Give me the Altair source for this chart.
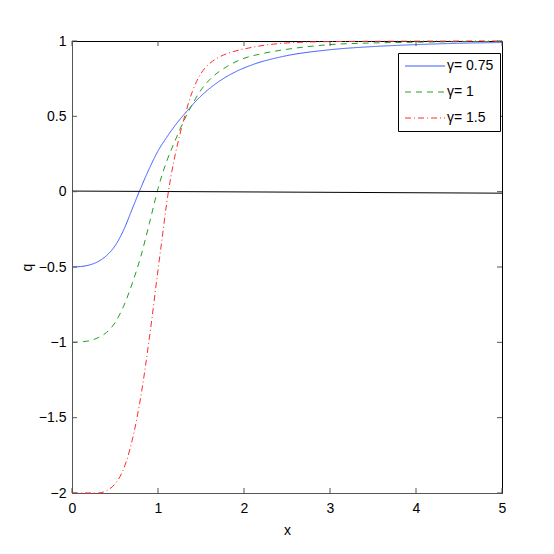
import altair as alt
import pandas as pd

labels = ["γ= 0.75", "γ= 1", "γ= 1.5"]
colors = ["#3a5bff", "#22a022", "#ff2a2a"]
dashes = [[1, 0], [6, 5], [6, 3, 1, 3]]

# gamma = 0.75 (blue, solid)
bx = [0, 0.1, 0.2, 0.3, 0.4, 0.5, 0.6, 0.7, 0.8, 0.9, 1.0, 1.1, 1.2, 1.3, 1.5, 1.7, 1.9, 2.1, 2.45, 3.0, 3.5, 4.0, 4.5, 5.0]
bq = [-0.5, -0.497, -0.487, -0.465, -0.425, -0.36, -0.255, -0.115, 0.025, 0.155, 0.27, 0.36, 0.44, 0.51, 0.635, 0.728, 0.795, 0.843, 0.897, 0.942, 0.963, 0.976, 0.985, 0.99]

# gamma = 1 (green, dashed)
gx = [0, 0.2, 0.3, 0.4, 0.5, 0.6, 0.7, 0.8, 0.9, 1.0, 1.1, 1.2, 1.3, 1.4, 1.5, 1.6, 1.8, 2.0, 2.2, 2.5, 3.0, 3.5, 4.0, 5.0]
gq = [-1.0, -0.99, -0.97, -0.935, -0.87, -0.76, -0.61, -0.43, -0.21, 0.02, 0.2, 0.34, 0.47, 0.58, 0.675, 0.743, 0.83, 0.885, 0.915, 0.945, 0.976, 0.987, 0.992, 0.997]

# gamma = 1.5 (red, dash-dot)
rx = [0, 0.3, 0.4, 0.5, 0.6, 0.7, 0.8, 0.9, 1.0, 1.05, 1.1, 1.15, 1.2, 1.3, 1.4, 1.5, 1.6, 1.7, 1.85, 2.05, 2.45, 3.0, 4.0, 5.0]
rq = [-2.0, -2.0, -1.985, -1.94, -1.84, -1.65, -1.36, -0.97, -0.52, -0.3, -0.08, 0.1, 0.245, 0.48, 0.665, 0.785, 0.85, 0.89, 0.925, 0.953, 0.985, 0.996, 0.999, 1.0]

# black near-zero line
zx = [0, 5]
zq = [0.004, -0.01]

x_ticks = [0, 1, 2, 3, 4, 5]
y_ticks = [-2, -1.5, -1, -0.5, 0, 0.5, 1]

rows = []
for lab, xs_, qs_ in zip(labels, [bx, gx, rx], [bq, gq, rq]):
    for i, (a, b) in enumerate(zip(xs_, qs_)):
        rows.append({"x": a, "q": b, "s": lab, "o": i})
df = pd.DataFrame(rows)
zdf = pd.DataFrame({"x": zx, "q": zq})
xt = pd.DataFrame({"x": x_ticks})
yt = pd.DataFrame({"q": y_ticks})

FONT = "Liberation Sans"
xsc = alt.Scale(domain=[0, 5], nice=False, zero=False)
ysc = alt.Scale(domain=[-2, 1], nice=False, zero=False)
x_axis = alt.Axis(values=x_ticks, format="d", title="x", labelPadding=8,
                  titlePadding=8, labelFlush=False)
y_axis = alt.Axis(values=y_ticks, format="~g", title="q", labelPadding=6,
                  titleX=-38, titleY=226, labelFlush=False)

leg = dict(title=None, orient="none", legendX=326, legendY=12,
           symbolType="M-4,0H4", symbolSize=100, symbolStrokeWidth=1,
           symbolOffset=14, labelOffset=15, labelFont=FONT, labelFontSize=14,
           labelColor="black", padding=6, rowPadding=12,
           strokeColor="black", fillColor="white", cornerRadius=0)

X = alt.X("x:Q", scale=xsc, axis=x_axis, title="x")
Y = alt.Y("q:Q", scale=ysc, axis=y_axis, title="q")

curves = alt.Chart(df).mark_line(strokeWidth=1, interpolate="monotone").encode(
    x=X, y=Y,
    color=alt.Color("s:N", scale=alt.Scale(domain=labels, range=colors),
                    legend=alt.Legend(**leg)),
    strokeDash=alt.StrokeDash("s:N", scale=alt.Scale(domain=labels, range=dashes),
                              legend=alt.Legend(**leg)),
    order="o:Q",
)

zero_line = alt.Chart(zdf).mark_line(color="black", strokeWidth=1).encode(x=X, y=Y)

tick_color = "#555555"
left_ticks = alt.Chart(yt).mark_rule(color=tick_color, strokeWidth=1).encode(
    y=Y, x=alt.value(0), x2=alt.value(5))
right_ticks = alt.Chart(yt).mark_rule(color=tick_color, strokeWidth=1).encode(
    y=Y, x=alt.value(425), x2=alt.value(430))
bottom_ticks = alt.Chart(xt).mark_rule(color=tick_color, strokeWidth=1).encode(
    x=X, y=alt.value(452), y2=alt.value(447))
top_ticks = alt.Chart(xt).mark_rule(color=tick_color, strokeWidth=1).encode(
    x=X, y=alt.value(0), y2=alt.value(5))

chart = alt.layer(
    curves, zero_line, left_ticks, right_ticks, bottom_ticks, top_ticks
).properties(
    width=430, height=452,
    autosize=alt.AutoSizeParams(type="none"),
    padding={"left": 64, "top": 33, "right": 40, "bottom": 45},
).configure_view(
    stroke="black", strokeWidth=1
).configure_axis(
    labelFont=FONT, labelFontSize=14, labelColor="black",
    titleFont=FONT, titleFontSize=14, titleFontWeight="normal", titleColor="black",
    grid=False, ticks=False, domainColor="#555555", domainWidth=1,
)

chart.save("out.html", embed_options={"renderer": "svg", "actions": False})
